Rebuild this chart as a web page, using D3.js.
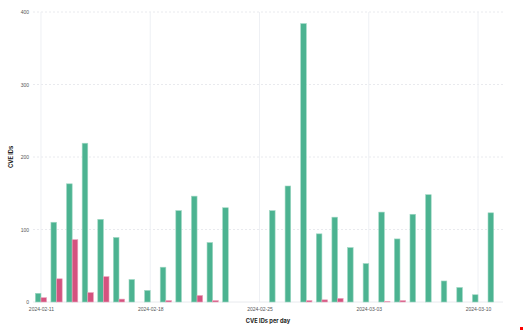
<!DOCTYPE html>
<html>
<head>
<meta charset="utf-8">
<script src="https://cdn.jsdelivr.net/npm/d3@7"></script>
<style>
  body { margin: 0; background: #fff; }
  svg { display: block; font-family: Inter, "Noto Sans", sans-serif; }
</style>
</head>
<body>
<figure id="chart" style="margin:0"></figure>
<script>
// one entry per day, 2024-02-11 .. 2024-03-11
const days = [
  '2024-02-11', '2024-02-12', '2024-02-13', '2024-02-14', '2024-02-15', '2024-02-16',
  '2024-02-17', '2024-02-18', '2024-02-19', '2024-02-20', '2024-02-21', '2024-02-22',
  '2024-02-23', '2024-02-24', '2024-02-25', '2024-02-26', '2024-02-27', '2024-02-28',
  '2024-02-29', '2024-03-01', '2024-03-02', '2024-03-03', '2024-03-04', '2024-03-05',
  '2024-03-06', '2024-03-07', '2024-03-08', '2024-03-09', '2024-03-10', '2024-03-11'
];
const greenValues = [
  12, 110, 163, 219, 114, 89, 31, 16, 48, 126, 146, 82,
  130, 0, 0, 126, 160, 384, 94, 117, 75, 53, 124, 87,
  121, 148, 29, 20, 10, 123
];
const pinkValues = [
  6, 32, 86, 13, 35, 4, 0, 0, 2, 0, 9, 2,
  0, 0, 0, 0, 0, 2, 3, 5, 0, 0, 1, 2,
  0, 0, 0, 0, 0, 0
];
const tickLabels = ['2024-02-11', '2024-02-18', '2024-02-25', '2024-03-03', '2024-03-10'];
const yTicks = [0, 100, 200, 300, 400];

const width = 524, height = 331;
const margin = { top: 12, right: 21, bottom: 29, left: 33 };
const innerW = width - margin.left - margin.right;
const innerH = height - margin.top - margin.bottom;

const parse = d3.utcParse('%Y-%m-%d');
const dayMs = 24 * 3600 * 1000;

const svg = d3.select('figure#chart')
  .append('svg')
  .attr('width', width)
  .attr('height', height);

const g = svg.append('g')
  .attr('transform', 'translate(' + margin.left + ',' + margin.top + ')');

const x = d3.scaleUtc()
  .domain([new Date(+parse(days[0]) - 0.51 * dayMs), new Date(+parse(days[days.length - 1]) + 0.6 * dayMs)])
  .range([0, innerW]);

const y = d3.scaleLinear()
  .domain([0, 400])
  .range([innerH, 0]);

const barW = x(parse(days[1])) - x(parse(days[0]));
const half = barW * 0.36;

// grid
g.append('g')
  .selectAll('line')
  .data(yTicks.filter(d => d > 0))
  .enter()
  .append('line')
  .attr('x1', 0).attr('x2', innerW)
  .attr('y1', d => y(d)).attr('y2', d => y(d))
  .attr('stroke', '#e3e5ea')
  .attr('stroke-dasharray', '2,2')
  .attr('stroke-width', 0.8);

g.append('g')
  .selectAll('line')
  .data(tickLabels)
  .enter()
  .append('line')
  .attr('x1', d => x(parse(d))).attr('x2', d => x(parse(d)))
  .attr('y1', 0).attr('y2', innerH)
  .attr('stroke', '#eef0f4')
  .attr('stroke-width', 1);

g.append('line')
  .attr('x1', 0).attr('x2', innerW)
  .attr('y1', innerH).attr('y2', innerH)
  .attr('stroke', '#e8eaee');

// axes
const xAxis = g.append('g')
  .attr('transform', 'translate(0,' + innerH + ')')
  .call(d3.axisBottom(x).tickValues(tickLabels.map(parse)).tickFormat(d3.utcFormat('%Y-%m-%d')).tickSize(0).tickPadding(5));
xAxis.select('.domain').remove();
xAxis.selectAll('text')
  .style('font-size', '5px')
  .style('fill', '#555');

const yAxis = g.append('g')
  .call(d3.axisLeft(y).tickValues(yTicks).tickSize(0).tickPadding(4));
yAxis.select('.domain').remove();
yAxis.selectAll('text')
  .style('font-size', '5px')
  .style('fill', '#555');

// bars
g.selectAll('.green')
  .data(days.map((d, i) => ({ day: d, v: greenValues[i] })).filter(d => d.v > 0))
  .enter()
  .append('rect')
  .attr('x', d => x(parse(d.day)) - half)
  .attr('y', d => y(d.v))
  .attr('width', half)
  .attr('height', d => innerH - y(d.v))
  .attr('fill', '#4cb391')
  .attr('stroke', '#9fd8c3')
  .attr('stroke-width', 0.6);

g.selectAll('.pink')
  .data(days.map((d, i) => ({ day: d, v: pinkValues[i] })).filter(d => d.v > 0))
  .enter()
  .append('rect')
  .attr('x', d => x(parse(d.day)))
  .attr('y', d => y(d.v))
  .attr('width', half)
  .attr('height', d => innerH - y(d.v))
  .attr('fill', '#d4527f')
  .attr('stroke', '#eba5bd')
  .attr('stroke-width', 0.6);

// titles
svg.append('text')
  .attr('x', margin.left + innerW / 2)
  .attr('y', 323)
  .attr('text-anchor', 'middle')
  .style('font-size', '5.7px')
  .style('font-weight', 700)
  .style('fill', '#222')
  .text('CVE IDs per day');

svg.append('text')
  .attr('transform', 'translate(13,' + (margin.top + innerH / 2) + ') rotate(-90)')
  .attr('text-anchor', 'middle')
  .style('font-size', '5.7px')
  .style('font-weight', 700)
  .style('fill', '#222')
  .text('CVE IDs');

svg.append('rect')
  .attr('x', 520).attr('y', 327)
  .attr('width', 3).attr('height', 3)
  .attr('fill', '#ff0000');
</script>
</body>
</html>
